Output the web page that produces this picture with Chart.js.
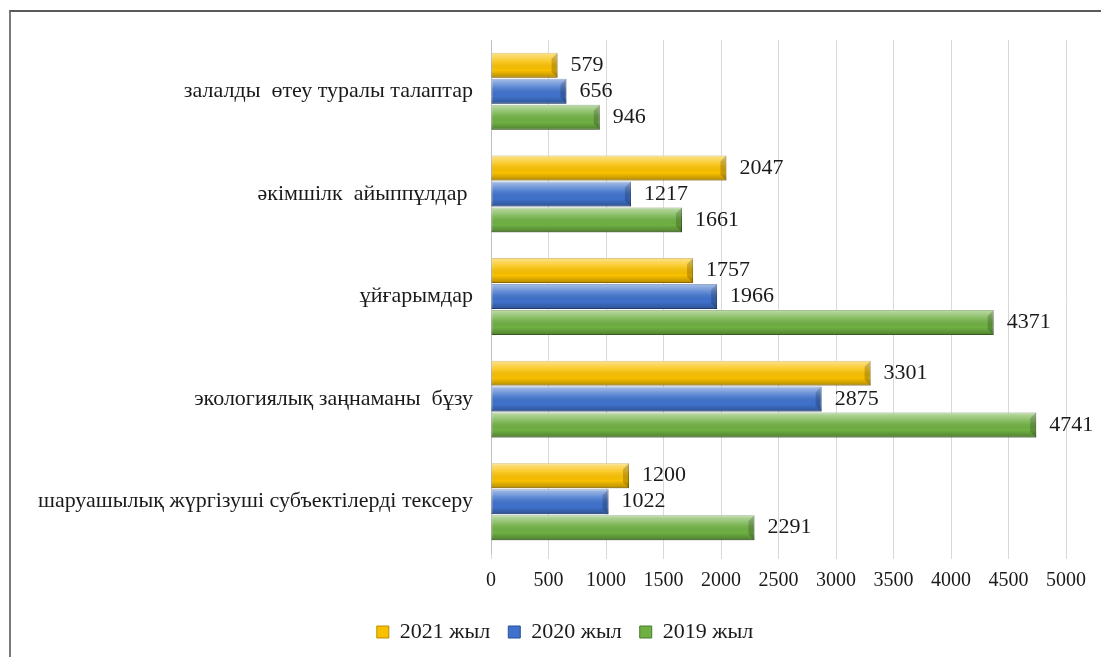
<!DOCTYPE html>
<html lang="kk">
<head>
    <meta charset="UTF-8">
    <title>Экологиялық бақылау нәтижелері</title>
    <script src="https://cdn.jsdelivr.net/npm/chart.js"></script>
    <style>
        html, body {
            margin: 0;
            padding: 0;
            background: #ffffff;
            overflow: hidden;
        }
        .frame {
            position: absolute;
            left: 9px;
            top: 10px;
            width: 1200px;
            height: 700px;
            border-left: 2px solid #7a7a7a;
            border-top: 2px solid #5a5a5a;
        }
        .wrap {
            position: absolute;
            left: 0;
            top: 0;
            width: 1101px;
            height: 657px;
        }
    </style>
</head>
<body>
    <div class="frame"></div>
    <div class="wrap"><canvas id="chart"></canvas></div>

    <script>
        // Санаттар (жоғарыдан төменге)
        const categories = [
            'залалды  өтеу туралы талаптар',
            'әкімшілк  айыппұлдар ',
            'ұйғарымдар',
            'экологиялық заңнаманы  бұзу',
            'шаруашылық жүргізуші субъектілерді тексеру'
        ];

        const values2021 = [579, 2047, 1757, 3301, 1200];
        const values2020 = [656, 1217, 1966, 2875, 1022];
        const values2019 = [946, 1661, 4371, 4741, 2291];

        const seriesNames = ['2021 жыл', '2020 жыл', '2019 жыл'];
        const xTicks = [0, 500, 1000, 1500, 2000, 2500, 3000, 3500, 4000, 4500, 5000];

        const serif = '"Liberation Serif", "Times New Roman", "DejaVu Serif", serif';

        // 3D әсері үшін жолақтардың үстіне жарық/көлеңке
        const bevelPlugin = {
            id: 'bevel',
            afterDatasetsDraw(chart) {
                const ctx = chart.ctx;
                chart.data.datasets.forEach((ds, i) => {
                    const meta = chart.getDatasetMeta(i);
                    meta.data.forEach(bar => {
                        const top = bar.y - bar.height / 2;
                        const bottom = bar.y + bar.height / 2;
                        const left = bar.base;
                        const right = bar.x;
                        const g = ctx.createLinearGradient(0, top, 0, bottom);
                        g.addColorStop(0, 'rgba(255,255,255,0.55)');
                        g.addColorStop(0.35, 'rgba(255,255,255,0.15)');
                        g.addColorStop(0.7, 'rgba(0,0,0,0)');
                        g.addColorStop(1, 'rgba(0,0,0,0.28)');
                        ctx.save();
                        ctx.fillStyle = g;
                        ctx.fillRect(left, top, right - left, bottom - top);
                        // оң жақ шетіндегі қиғаш
                        const b = Math.min(6, bar.height / 3);
                        ctx.fillStyle = 'rgba(0,0,0,0.18)';
                        ctx.beginPath();
                        ctx.moveTo(right, top);
                        ctx.lineTo(right, bottom);
                        ctx.lineTo(right - b, bottom - b);
                        ctx.lineTo(right - b, top + b);
                        ctx.closePath();
                        ctx.fill();
                        ctx.restore();
                    });
                });
            }
        };

        // Мәндер жолақтың оң жағында
        const valueLabels = {
            id: 'valueLabels',
            afterDatasetsDraw(chart) {
                const ctx = chart.ctx;
                ctx.save();
                ctx.font = '22px ' + serif;
                ctx.fillStyle = '#1a1a1a';
                ctx.textAlign = 'left';
                ctx.textBaseline = 'middle';
                chart.data.datasets.forEach((ds, i) => {
                    const meta = chart.getDatasetMeta(i);
                    meta.data.forEach((bar, j) => {
                        ctx.fillText(String(ds.data[j]), bar.x + 13, bar.y);
                    });
                });
                ctx.restore();
            }
        };

        // Легенданы сәл оңға жылжыту
        const legendShift = {
            id: 'legendShift',
            afterLayout(chart) {
                const lg = chart.legend;
                if (lg) {
                    lg.left += 32;
                    lg.right += 32;
                }
            }
        };

        new Chart(document.getElementById('chart'), {
            type: 'bar',
            data: {
                labels: categories,
                datasets: [
                    {
                        label: seriesNames[0],
                        data: values2021,
                        backgroundColor: '#f9c000',
                        borderColor: '#b88d00',
                        borderWidth: 1,
                        borderSkipped: false
                    },
                    {
                        label: seriesNames[1],
                        data: values2020,
                        backgroundColor: '#3f72cc',
                        borderColor: '#2a4f92',
                        borderWidth: 1,
                        borderSkipped: false
                    },
                    {
                        label: seriesNames[2],
                        data: values2019,
                        backgroundColor: '#6fb043',
                        borderColor: '#4a7a2a',
                        borderWidth: 1,
                        borderSkipped: false
                    }
                ]
            },
            options: {
                indexAxis: 'y',
                responsive: true,
                maintainAspectRatio: false,
                animation: false,
                categoryPercentage: 0.76,
                barPercentage: 0.96,
                layout: {
                    padding: { top: 40, right: 35, bottom: 4, left: 0 }
                },
                scales: {
                    x: {
                        min: 0,
                        max: 5000,
                        afterBuildTicks(scale) {
                            scale.ticks = xTicks.map(v => ({ value: v }));
                        },
                        afterFit(scale) {
                            scale.height = 50;
                        },
                        grid: {
                            color: '#d9d9d9',
                            tickLength: 6
                        },
                        border: { display: false },
                        ticks: {
                            padding: 10,
                            color: '#1a1a1a',
                            font: { family: serif, size: 20 },
                            callback: (v) => String(v)
                        }
                    },
                    y: {
                        afterFit(scale) {
                            scale.width = 491;
                        },
                        grid: { display: false, drawTicks: false },
                        border: { display: true, color: '#bfbfbf' },
                        ticks: {
                            padding: 18,
                            color: '#1a1a1a',
                            font: { family: serif, size: 22 }
                        }
                    }
                },
                plugins: {
                    legend: {
                        position: 'bottom',
                        labels: {
                            boxWidth: 12,
                            boxHeight: 12,
                            padding: 18,
                            color: '#1a1a1a',
                            font: { family: serif, size: 22 }
                        }
                    },
                    tooltip: { enabled: false }
                }
            },
            plugins: [bevelPlugin, valueLabels, legendShift]
        });
    </script>
</body>
</html>
